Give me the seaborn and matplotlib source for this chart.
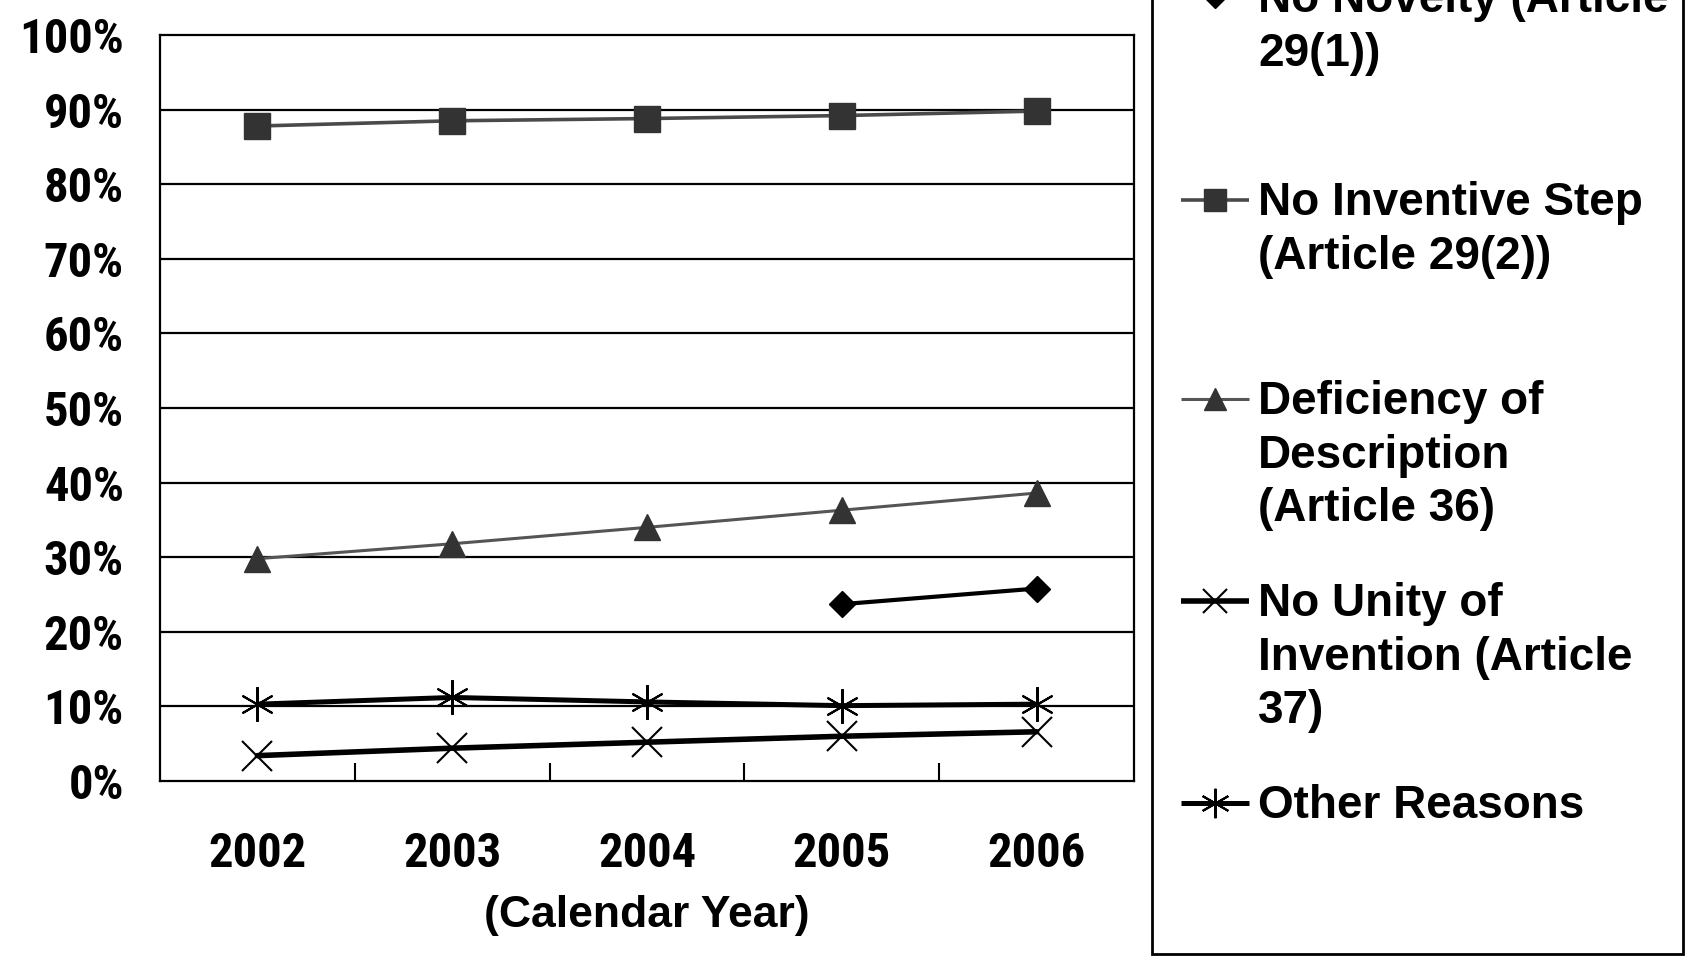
import numpy as np
import pandas as pd
import seaborn as sns
import matplotlib
matplotlib.use("Agg")
import matplotlib.pyplot as plt
from matplotlib import font_manager
from matplotlib.patches import Rectangle
from matplotlib.ticker import FixedLocator, FuncFormatter

# ---- data (percent of rejections by reason) ----
years = ["2002", "2003", "2004", "2005", "2006"]
no_novelty = [np.nan, np.nan, np.nan, 23.7, 25.8]
no_inventive_step = [87.8, 88.5, 88.8, 89.2, 89.8]
deficiency_of_description = [29.8, 31.8, 34.0, 36.3, 38.6]
no_unity_of_invention = [3.4, 4.4, 5.2, 6.0, 6.6]
other_reasons = [10.3, 11.2, 10.6, 10.1, 10.3]

series_names = [
    "No Novelty (Article\n29(1))",
    "No Inventive Step\n(Article 29(2))",
    "Deficiency of\nDescription\n(Article 36)",
    "No Unity of\nInvention (Article\n37)",
    "Other Reasons",
]
series_values = [no_novelty, no_inventive_step, deficiency_of_description,
                 no_unity_of_invention, other_reasons]
y_tick_values = [0, 10, 20, 30, 40, 50, 60, 70, 80, 90, 100]
x_axis_title = "(Calendar Year)"

# ---- styles ----
styles = [
    dict(color="black", lw=3.0, marker="D", ms=13, mfc="black", mec="black", mew=1.0),
    dict(color="#4a4a4a", lw=2.6, marker="s", ms=19, mfc="#333333", mec="#333333", mew=1.0),
    dict(color="#555555", lw=2.2, marker="^", ms=19, mfc="#333333", mec="#333333", mew=1.0),
    dict(color="black", lw=4.0, marker="x", ms=21, mfc="none", mec="black", mew=1.5),
    dict(color="black", lw=3.6, marker=(6, 2, 0), ms=25, mfc="none", mec="black", mew=1.5),
]

sns.set_theme(style="white")
plt.rcParams["font.family"] = ["Liberation Sans", "DejaVu Sans"]
for key in ("text.color", "axes.labelcolor", "xtick.color", "ytick.color"):
    plt.rcParams[key] = "black"

# pick a narrow bold face for the axis numbers when one is available
axis_font = dict(family=["Liberation Sans", "DejaVu Sans"], size=32)
entries = font_manager.fontManager.ttflist
for wanted in ("Liberation Sans Narrow", "Roboto Condensed", "Open Sans Condensed"):
    if any(f.name == wanted for f in entries):
        axis_font = dict(family=[wanted, "DejaVu Sans"], size=35)
        break
else:
    if any(f.name == "DejaVu Sans" and f.stretch == "condensed" for f in entries):
        axis_font = dict(family=["DejaVu Sans"], size=33, stretch="condensed")

long_df = pd.DataFrame({
    "pos": np.tile(np.arange(len(years)), len(series_names)),
    "value": np.concatenate([np.asarray(v, dtype=float) for v in series_values]),
    "series": np.repeat(series_names, len(years)),
})

W, H = 1691, 960
fig = plt.figure(figsize=(W / 100, H / 100), dpi=100)
fig.patch.set_facecolor("white")
ax = fig.add_axes([160 / W, 1 - 781 / H, (1134 - 160) / W, (781 - 35) / H])

for name, st in zip(series_names, styles):
    sub = long_df[long_df["series"] == name].dropna()
    sns.lineplot(data=sub, x="pos", y="value", ax=ax, color=st["color"],
                 linewidth=st["lw"], marker=st["marker"], markersize=st["ms"],
                 markerfacecolor=st["mfc"], markeredgecolor=st["mec"],
                 markeredgewidth=st["mew"], legend=False, zorder=3)

ax.set_xlim(-0.5, len(years) - 0.5)
ax.set_ylim(0, 100)
ax.set_facecolor("white")

# horizontal gridlines at every 10%
for v in y_tick_values[1:-1]:
    ax.axhline(v, color="black", lw=1.6, zorder=1)
for sp in ax.spines.values():
    sp.set_visible(True)
    sp.set_color("black")
    sp.set_linewidth(1.6)


def style_labels(labels):
    for lab in labels:
        lab.set_fontfamily(axis_font["family"])
        lab.set_fontsize(axis_font["size"])
        lab.set_fontweight("bold")
        if "stretch" in axis_font:
            lab.set_fontstretch(axis_font["stretch"])


ax.yaxis.set_major_locator(FixedLocator(y_tick_values))
ax.yaxis.set_major_formatter(FuncFormatter(lambda v, p: f"{int(round(v))}%"))
ax.tick_params(axis="y", length=0, pad=26)
style_labels(ax.get_yticklabels())

ax.xaxis.set_major_locator(FixedLocator(range(len(years))))
ax.set_xticklabels(years)
ax.xaxis.set_minor_locator(FixedLocator([i + 0.5 for i in range(len(years) - 1)]))
ax.tick_params(axis="x", which="major", length=0, pad=36)
ax.tick_params(axis="x", which="minor", direction="in", length=13, width=1.5,
               color="black", bottom=True)
style_labels(ax.get_xticklabels())

ax.set_xlabel(x_axis_title, labelpad=13, fontsize=32, fontweight="bold",
              fontfamily=["Liberation Sans", "DejaVu Sans"])
ax.set_ylabel("")

# ---- legend panel drawn in pixel coordinates ----
lax = fig.add_axes([0, 0, 1, 1])
lax.set_xlim(0, W)
lax.set_ylim(H, 0)
lax.axis("off")
lax.add_patch(Rectangle((1152, -20), 1683 - 1152, 954 + 20, fill=False,
                        edgecolor="black", lw=2.0))
entry_y = [-3, 200, 399, 601, 803]
for name, st, yy in zip(series_names, styles, entry_y):
    lax.plot([1181, 1249], [yy, yy], color=st["color"], lw=st["lw"],
             solid_capstyle="butt")
    lax.plot([1215], [yy], marker=st["marker"], ms=st["ms"] * 0.85,
             mfc=st["mfc"], mec=st["mec"], mew=st["mew"], ls="none")
    lax.text(1258, yy - 19, name, ha="left", va="top", fontsize=33,
             fontweight="bold", linespacing=1.28, color="black")

fig.savefig("out.png", dpi=100, facecolor="white")
